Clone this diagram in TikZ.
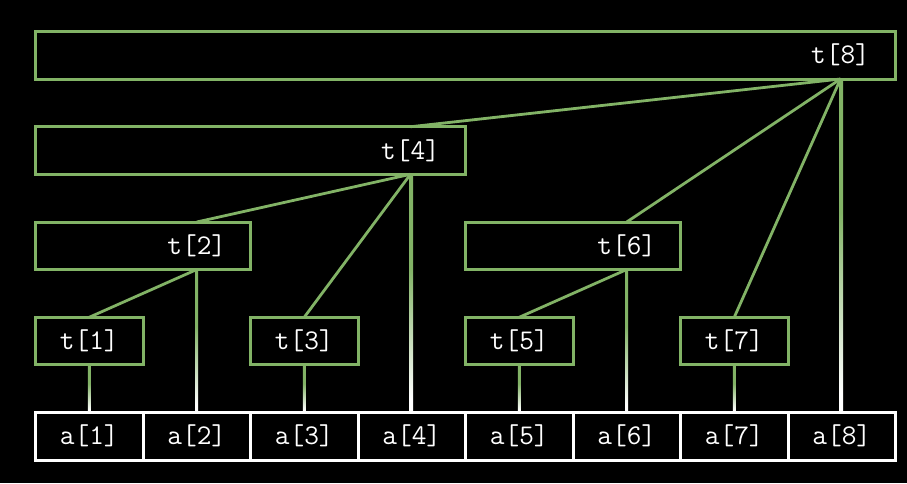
\documentclass[tikz,border=0pt]{standalone}
\usetikzlibrary{calc}
\definecolor{grn}{HTML}{82B366}
\pgfdeclareverticalshading{fadeline}{100bp}{color(0bp)=(white); color(28bp)=(white); color(55bp)=(grn); color(100bp)=(grn)}
\begin{document}
\begin{tikzpicture}[x=1pt,y=-1pt,
  tbox/.style={draw=grn, line width=3pt, minimum height=47.5pt, inner sep=0pt, outer sep=0pt, anchor=north west},
  abox/.style={draw=white, line width=3pt, minimum width=107.5pt, minimum height=47.5pt, inner sep=0pt, outer sep=0pt, anchor=north west, text=white, font=\fontsize{28.5}{28.5}\selectfont\ttfamily},
  lbl/.style={text=white, font=\fontsize{28.5}{28.5}\selectfont\ttfamily, inner sep=0pt},
  edgeline/.style={draw=grn, line width=2.8pt},
  fade/.style={shading=fadeline}]
\fill[black] (0,0) rectangle (907,483);
\useasboundingbox (0,0) rectangle (907,483);
% tree boxes
\node[tbox, minimum width=860pt] (b8) at (35.5,31.5) {};
\node[tbox, minimum width=430pt] (b4) at (35.5,126.75) {};
\node[tbox, minimum width=215pt] (b2) at (35.5,222) {};
\node[tbox, minimum width=215pt] (b6) at (465.5,222) {};
\node[tbox, minimum width=107.5pt] (b1) at (35.5,317.25) {};
\node[tbox, minimum width=107.5pt] (b3) at (250.5,317.25) {};
\node[tbox, minimum width=107.5pt] (b5) at (465.5,317.25) {};
\node[tbox, minimum width=107.5pt] (b7) at (680.5,317.25) {};
% labels
\node[lbl] (t8) at (840.5,55.25) {t[8]};
\node[lbl] (t4) at (410.5,150.5) {t[4]};
\node[lbl] (t2) at (196.75,245.75) {t[2]};
\node[lbl] (t6) at (626.75,245.75) {t[6]};
\node[lbl] (t1) at (89.25,341) {t[1]};
\node[lbl] (t3) at (304.25,341) {t[3]};
\node[lbl] (t5) at (519.25,341) {t[5]};
\node[lbl] (t7) at (734.25,341) {t[7]};
% array cells
\node[abox] (a1) at (35.5,412.5) {a[1]};
\node[abox] (a2) at (143,412.5) {a[2]};
\node[abox] (a3) at (250.5,412.5) {a[3]};
\node[abox] (a4) at (358,412.5) {a[4]};
\node[abox] (a5) at (465.5,412.5) {a[5]};
\node[abox] (a6) at (573,412.5) {a[6]};
\node[abox] (a7) at (680.5,412.5) {a[7]};
\node[abox] (a8) at (788,412.5) {a[8]};
% tree edges
\draw[edgeline] (t4 |- b4.north) -- (t8 |- b8.south);
\draw[edgeline] (t6 |- b6.north) -- (t8 |- b8.south);
\draw[edgeline] (t7 |- b7.north) -- (t8 |- b8.south);
\draw[edgeline] (t2 |- b2.north) -- (t4 |- b4.south);
\draw[edgeline] (t3 |- b3.north) -- (t4 |- b4.south);
\draw[edgeline] (t1 |- b1.north) -- (t2 |- b2.south);
\draw[edgeline] (t5 |- b5.north) -- (t6 |- b6.south);
% vertical fading links to array
\foreach \i in {1,...,8}{
  \shade[fade] ($(t\i |- b\i.south)+(-1.4,-0.6)$) rectangle ($(a\i.north)+(1.4,0.6)$);
}
% redraw box outlines on top
\foreach \i in {1,...,8}{
  \draw[grn, line width=3pt] (b\i.north west) rectangle (b\i.south east);
}
\foreach \i in {1,...,8}{
  \draw[white, line width=3pt] (a\i.north west) rectangle (a\i.south east);
}
\end{tikzpicture}
\end{document}
